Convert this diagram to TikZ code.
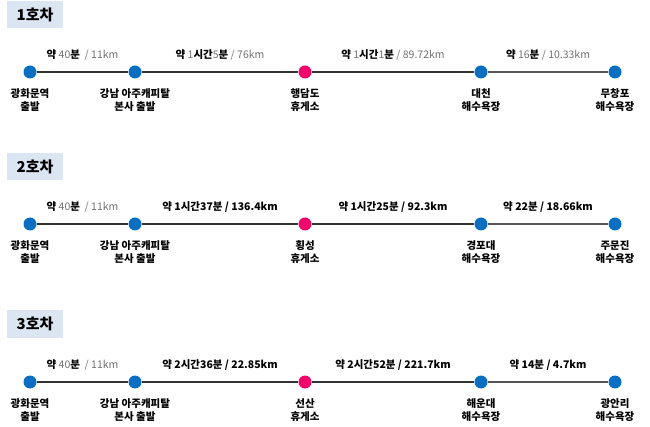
\documentclass[tikz,border=0pt]{standalone}
\usepackage{fontspec}
\setmainfont{Noto Sans CJK KR}
\usepackage{tikz}
\definecolor{stopblue}{HTML}{0A6FC2}
\definecolor{restpink}{HTML}{F2056A}
\definecolor{titlebg}{HTML}{DCE6F2}
\definecolor{linegray}{HTML}{333333}
\definecolor{lastgray}{HTML}{555555}
\definecolor{kmgray}{HTML}{707070}
\newcommand{\kmtext}[1]{{\color{kmgray}\mdseries #1}}
\tikzstyle{route} = [draw=linegray, line width=2.2pt]
\tikzstyle{lastroute} = [draw=lastgray, line width=2pt]
\tikzstyle{near} = [node distance = 105pt]
\tikzstyle{far} = [node distance = 170pt]
\tikzstyle{farther} = [node distance = 176pt]
\tikzstyle{mid} = [node distance = 134pt]
\tikzstyle{drop} = [node distance = 28.5pt]
\tikzstyle{stop} = [circle, fill=stopblue, minimum size=13pt, inner sep=0pt]
\tikzstyle{rest} = [stop, fill=restpink]
\tikzstyle{title} = [fill=titlebg, minimum width=56pt, minimum height=27pt, font=\bfseries\fontsize{15}{18}\selectfont]
\tikzstyle{place} = [align=center, inner sep=0pt, font=\bfseries\fontsize{10.5}{13}\selectfont]
\tikzstyle{time} = [midway, yshift=17pt, inner sep=0pt, font=\bfseries\fontsize{10.5}{13}\selectfont]
\begin{document}
\begin{tikzpicture}[x=1pt, y=1pt]

\useasboundingbox (0,0) rectangle (650,-427);

% 1호차
\node (t1) [title] at (35,-15) {1호차};
\node (a1) [stop] at (30,-72) {};
\node (b1) [stop,near,right of=a1] {};
\node (c1) [rest,far,right of=b1] {};
\node (d1) [stop,farther,right of=c1] {};
\node (e1) [stop,mid,right of=d1] {};

\path (a1) edge[route] 
  node[time] {약 \kmtext{40}분 \kmtext{~/ 11km}} (b1);
\path (b1) edge[route] 
  node[time] {약 \kmtext{1}시간\kmtext{5}분 \kmtext{/ 76km}} (c1);
\path (c1) edge[route] 
  node[time] {약 \kmtext{1}시간\kmtext{1}분 \kmtext{/ 89.72km}} (d1);
\path (d1) edge[lastroute] 
  node[time] {약 \kmtext{16}분 \kmtext{/ 10.33km}} (e1);

\node (pa1) [place,drop,below of=a1] {광화문역\\출발};
\node (pb1) [place,drop,below of=b1] {강남 아주캐피탈\\본사 출발};
\node (pc1) [place,drop,below of=c1] {행담도\\휴게소};
\node (pd1) [place,drop,below of=d1] {대천\\해수욕장};
\node (pe1) [place,drop,below of=e1] {무창포\\해수욕장};

% 2호차
\node (t2) [title] at (35,-167) {2호차};
\node (a2) [stop] at (30,-224) {};
\node (b2) [stop,near,right of=a2] {};
\node (c2) [rest,far,right of=b2] {};
\node (d2) [stop,farther,right of=c2] {};
\node (e2) [stop,mid,right of=d2] {};

\path (a2) edge[route] 
  node[time] {약 \kmtext{40}분 \kmtext{~/ 11km}} (b2);
\path (b2) edge[route] 
  node[time] {약 1시간37분 / 136.4km} (c2);
\path (c2) edge[route] 
  node[time] {약 1시간25분 / 92.3km} (d2);
\path (d2) edge[lastroute] 
  node[time] {약 22분 / 18.66km} (e2);

\node (pa2) [place,drop,below of=a2] {광화문역\\출발};
\node (pb2) [place,drop,below of=b2] {강남 아주캐피탈\\본사 출발};
\node (pc2) [place,drop,below of=c2] {횡성\\휴게소};
\node (pd2) [place,drop,below of=d2] {경포대\\해수욕장};
\node (pe2) [place,drop,below of=e2] {주문진\\해수욕장};

% 3호차
\node (t3) [title] at (35,-324) {3호차};
\node (a3) [stop] at (30,-382) {};
\node (b3) [stop,near,right of=a3] {};
\node (c3) [rest,far,right of=b3] {};
\node (d3) [stop,farther,right of=c3] {};
\node (e3) [stop,mid,right of=d3] {};

\path (a3) edge[route] 
  node[time] {약 \kmtext{40}분 \kmtext{~/ 11km}} (b3);
\path (b3) edge[route] 
  node[time] {약 2시간36분 / 22.85km} (c3);
\path (c3) edge[route] 
  node[time] {약 2시간52분 / 221.7km} (d3);
\path (d3) edge[lastroute] 
  node[time] {약 14분 / 4.7km} (e3);

\node (pa3) [place,drop,below of=a3] {광화문역\\출발};
\node (pb3) [place,drop,below of=b3] {강남 아주캐피탈\\본사 출발};
\node (pc3) [place,drop,below of=c3] {선산\\휴게소};
\node (pd3) [place,drop,below of=d3] {해운대\\해수욕장};
\node (pe3) [place,drop,below of=e3] {광안리\\해수욕장};

\end{tikzpicture}
\end{document}
